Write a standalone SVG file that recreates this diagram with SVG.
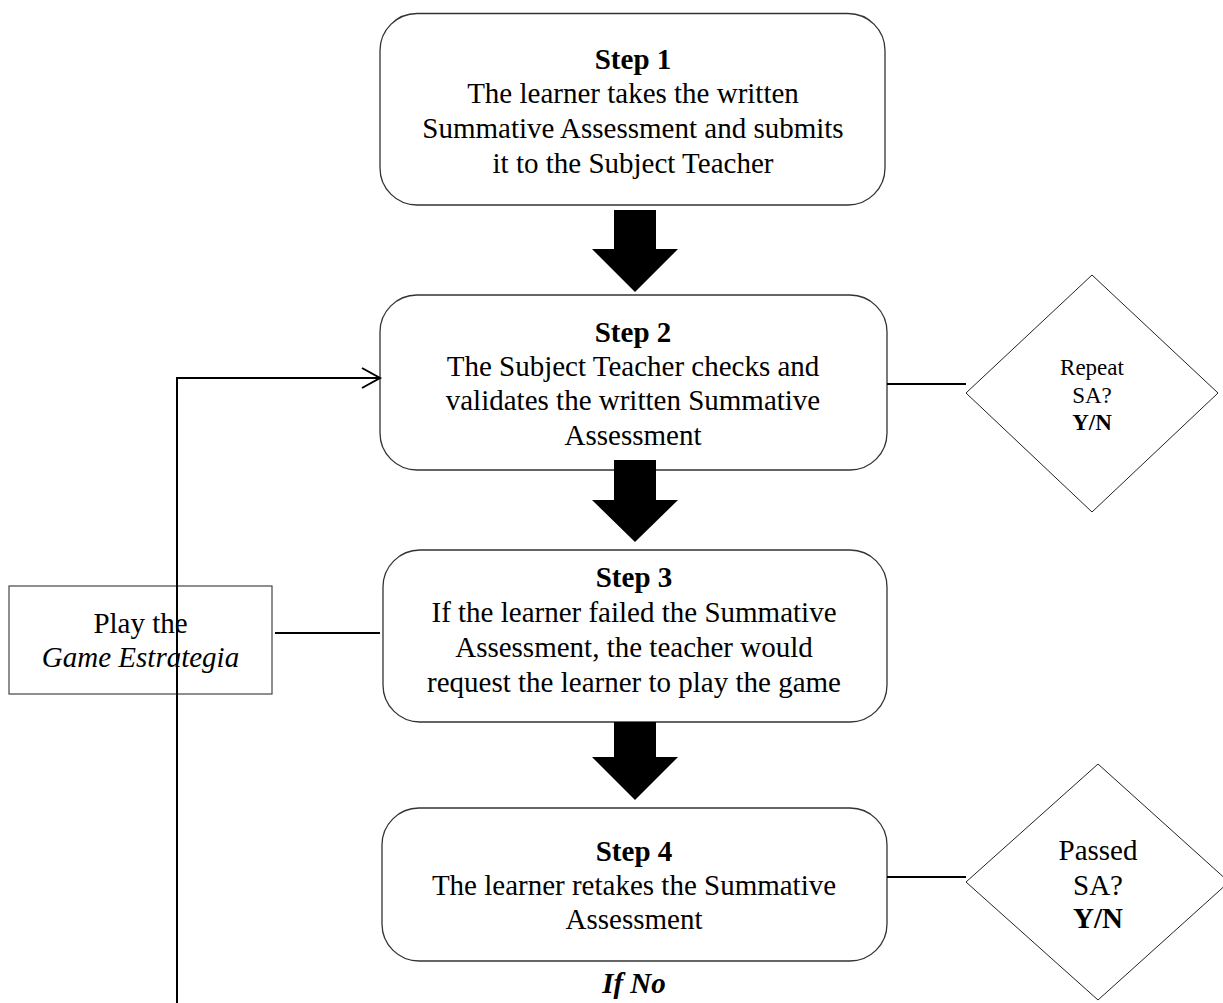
<svg xmlns="http://www.w3.org/2000/svg" width="1223" height="1003" viewBox="0 0 1223 1003">
<style>
  .box { fill: #fff; stroke: #333; stroke-width: 1.3; }
  .rect { fill: #fff; stroke: #444; stroke-width: 1.2; }
  .dia { fill: #fff; stroke: #222; stroke-width: 1; }
  .t { font-family: "Liberation Serif", "Times New Roman", serif; font-size: 29px; fill: #000; text-anchor: middle; }
  .s { font-size: 23px; }
  .b { font-weight: bold; }
  .i { font-style: italic; }
  .ln { stroke: #000; stroke-width: 2; fill: none; }
  .blk { fill: #000; stroke: none; }
</style>
<rect width="1223" height="1003" fill="#fff"/>

<g id="step1">
  <rect class="box" x="380" y="13.5" width="505" height="191.5" rx="37" ry="37"/>
  <text class="t b" x="633" y="69">Step 1</text>
  <text class="t" x="633" y="103">The learner takes the written</text>
  <text class="t" x="633" y="138">Summative Assessment and submits</text>
  <text class="t" x="633" y="173">it to the Subject Teacher</text>
</g>

<g id="step2">
  <rect class="box" x="380" y="295" width="507" height="175" rx="37" ry="37"/>
  <text class="t b" x="633" y="342">Step 2</text>
  <text class="t" x="633" y="376">The Subject Teacher checks and</text>
  <text class="t" x="633" y="410">validates the written Summative</text>
  <text class="t" x="633" y="445">Assessment</text>
</g>

<g id="step3">
  <rect class="box" x="383" y="550" width="504" height="172" rx="37" ry="37"/>
  <text class="t b" x="634" y="587">Step 3</text>
  <text class="t" x="634" y="622">If the learner failed the Summative</text>
  <text class="t" x="634" y="657">Assessment, the teacher would</text>
  <text class="t" x="634" y="692">request the learner to play the game</text>
</g>

<g id="step4">
  <rect class="box" x="382" y="808" width="505" height="153" rx="37" ry="37"/>
  <text class="t b" x="634" y="861">Step 4</text>
  <text class="t" x="634" y="895">The learner retakes the Summative</text>
  <text class="t" x="634" y="929">Assessment</text>
</g>

<g id="if-no">
  <text class="t b i" x="634" y="993">If No</text>
</g>

<g id="play-game">
  <rect class="rect" x="9" y="586" width="263" height="108"/>
  <text class="t" x="140.5" y="633">Play the</text>
  <text class="t i" x="140.5" y="667">Game Estrategia</text>
</g>

<g id="repeat-sa">
  <polygon class="dia" points="1092,275 1218,393 1092,512 966,393"/>
  <text class="t s" x="1092" y="375">Repeat</text>
  <text class="t s" x="1092" y="403">SA?</text>
  <text class="t s b" x="1092" y="430">Y/N</text>
</g>

<g id="passed-sa">
  <polygon class="dia" points="1098,764 1229,882 1098,1000 966,882"/>
  <text class="t" x="1098" y="860">Passed</text>
  <text class="t" x="1098" y="895">SA?</text>
  <text class="t b" x="1098" y="928">Y/N</text>
</g>

<g id="connectors">
  <polygon class="blk" points="614,210 656,210 656,249 678,249 635,292 592,249 614,249"/>
  <polygon class="blk" points="614,460 656,460 656,500 678,500 635,542 592,500 614,500"/>
  <polygon class="blk" points="614,722 656,722 656,757 678,757 635,800 592,757 614,757"/>
  <line class="ln" x1="887" y1="384" x2="966" y2="384"/>
  <line class="ln" x1="887" y1="877" x2="966" y2="877"/>
  <line class="ln" x1="275" y1="633" x2="380" y2="633"/>
  <polyline class="ln" points="177,1003 177,378 379,378"/>
  <polyline class="ln" points="362,368 380,378 362,388"/>
</g>
</svg>
